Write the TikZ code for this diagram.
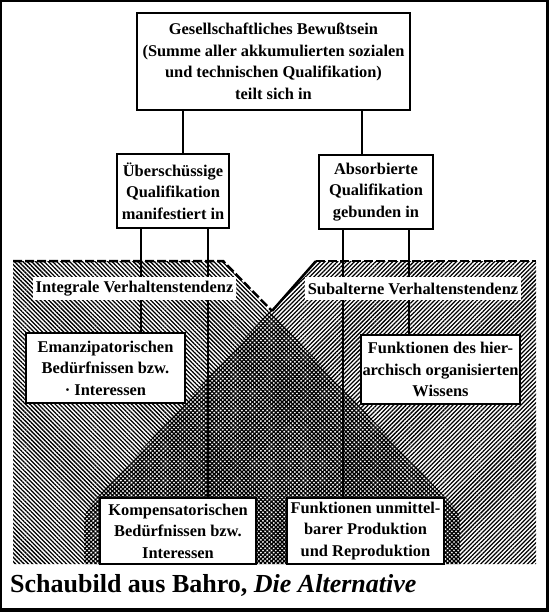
\documentclass[tikz,border=0pt]{standalone}
\usepackage{fontspec}
\setmainfont{Liberation Serif}
\usetikzlibrary{patterns.meta}
\tikzset{
  box/.style={draw=black, line width=2.3pt, fill=white, inner sep=0pt, align=center,
    font=\bfseries\fontsize{16.4}{21.5}\selectfont},
  lab/.style={fill=white, inner xsep=3pt, inner ysep=0pt, minimum height=23pt,
    font=\bfseries\fontsize{16.4}{20}\selectfont},
  conn/.style={line width=1.7pt},
  hatchL/.style={pattern={Lines[angle=-45,distance=3pt,line width=1.3pt]}},
  hatchR/.style={pattern={Lines[angle=45,distance=3pt,line width=1.3pt]}},
  edgedash/.style={line width=2.5pt, dash pattern=on 9pt off 3pt},
  edgesolid/.style={line width=2.5pt},
}
\begin{document}
\begin{tikzpicture}[x=1pt,y=-1pt]
\useasboundingbox (0,0) rectangle (549,612);
% frame
\fill[black] (0,0) rectangle (549,612);
\fill[white] (2,2) rectangle (546,608);
% hatched regions
\fill[hatchL] (13,261) -- (223,261) -- (448,500) .. controls (456,508) and (460,514) .. (460,524) -- (460,564) -- (13,564) -- cycle;
\fill[hatchR] (536,261) -- (316,261) -- (95,500) .. controls (87,508) and (84,514) .. (84,524) -- (84,564) -- (536,564) -- cycle;
% top edges
\coordinate (apex) at (272,311);
\draw[edgedash] (13,261) -- (223,261) -- (apex);
\draw[edgesolid] (apex) -- (316,261);
\draw[edgedash] (316,261) -- (536,261);
% boxes
\node[box, minimum width=273pt, minimum height=97pt] (top) at (273.5,61.5)
  {Gesellschaftliches Bewußtsein\\(Summe aller akkumulierten sozialen\\und technischen Qualifikation)\\teilt sich in};
\node[box, minimum width=112pt, minimum height=74pt] (midL) at (173,191)
  {Überschüssige\\Qualifikation\\manifestiert in};
\node[box, minimum width=114pt, minimum height=74pt] (midR) at (376,192)
  {Absorbierte\\Qualifikation\\gebunden in};
\node[box, minimum width=159pt, minimum height=70pt] (emanz) at (105.5,368)
  {Emanzipatorischen\\Bedürfnissen bzw.\\· Interessen};
\node[box, minimum width=159pt, minimum height=69pt] (hier) at (440.5,369.5)
  {Funktionen des hier-\\archisch organisierten\\Wissens};
\node[box, minimum width=156pt, minimum height=66pt] (komp) at (178,531)
  {Kompensatorischen\\Bedürfnissen bzw.\\Interessen};
\node[box, minimum width=157pt, minimum height=66pt] (unm) at (365.5,531)
  {Funktionen unmittel-\\barer Produktion\\und Reproduktion};
% connector x positions
\coordinate (xa) at (183,0);
\coordinate (xb) at (362,0);
\coordinate (xc) at (141,0);
\coordinate (xd) at (208,0);
\coordinate (xe) at (343,0);
\coordinate (xf) at (409,0);
% connectors
\draw[conn] (top.south -| xa) -- (midL.north -| xa);
\draw[conn] (top.south -| xb) -- (midR.north -| xb);
\draw[conn] (midL.south -| xc) -- (emanz.north -| xc);
\draw[conn] (midL.south -| xd) -- (komp.north -| xd);
\draw[conn] (midR.south -| xe) -- (unm.north -| xe);
\draw[conn] (midR.south -| xf) -- (hier.north -| xf);
% labels
\node[lab] (labL) at (134.5,288.5) {Integrale Verhaltenstendenz};
\node[lab] (labR) at (413,288.5) {Subalterne Verhaltenstendenz};
% caption
\node[anchor=base west, inner sep=0pt, font=\bfseries\fontsize{26}{30}\selectfont] (cap) at (10,592)
  {Schaubild aus Bahro, \textit{Die Alternative}};
\end{tikzpicture}
\end{document}
